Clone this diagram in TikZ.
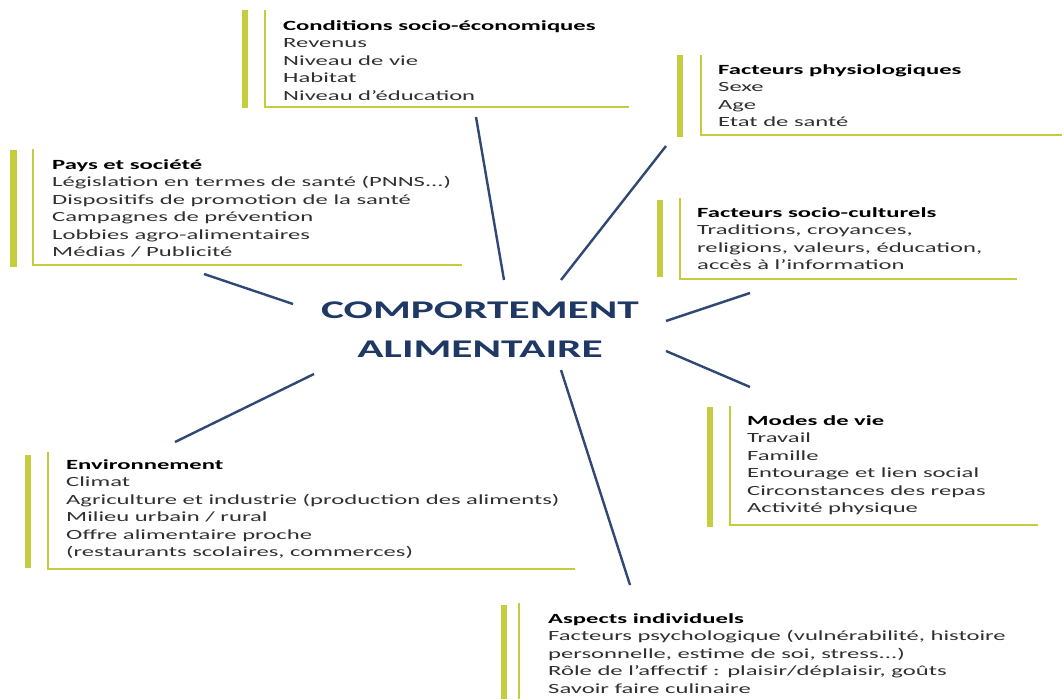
\documentclass[tikz,border=0pt]{standalone}
\usepackage{fontspec}
\setmainfont{Carlito}
\usepackage{graphicx}
\definecolor{olive}{RGB}{197,205,62}
\definecolor{navy}{RGB}{47,72,118}
\definecolor{titlenavy}{RGB}{31,56,100}
\definecolor{bodygray}{RGB}{48,48,48}
\newcommand{\sx}{1.76}
\newcommand{\boxtext}[2]{\scalebox{\sx}[1]{\begin{tabular}[t]{@{}l@{}}\textcolor{black}{\textbf{#1}}\\#2\end{tabular}}}
\begin{document}
\begin{tikzpicture}[x=1pt,y=-1pt,
  bar/.style={fill=olive,draw=none},
  rule/.style={draw=olive,line width=2.6pt},
  conn/.style={draw=navy,line width=2.4pt},
  info/.style={anchor=base west,inner sep=0pt,text=bodygray,font=\fontsize{14}{17.5}\selectfont},
  center/.style={anchor=base,inner sep=0pt,text=titlenavy,font=\fontsize{25.5}{39}\selectfont\bfseries}]
\useasboundingbox[fill=white] (0,0) rectangle (1064,699);

% decorations of the boxes
\fill[bar] (242,10) rectangle (248,108);
\draw[rule] (265,10) -- (265,107) -- (629,107);
\fill[bar] (10,150) rectangle (17,267);
\draw[rule] (33,149) -- (33,265) -- (462,265);
\fill[bar] (677,55) rectangle (683,137);
\draw[rule] (701,55) -- (701,135) -- (1062,135);
\fill[bar] (657,200) rectangle (663,277);
\draw[rule] (680,198) -- (680,279) -- (1017,279);
\fill[bar] (707,407) rectangle (713,527);
\draw[rule] (730,406) -- (730,525) -- (1038,525);
\fill[bar] (25,455) rectangle (31,568);
\draw[rule] (48,452) -- (48,569) -- (575,569);
\fill[bar] (501,605) rectangle (507,699);
\draw[rule] (519,603) -- (519,699);

% texts
\node[info] (cond) at (283,30) {\boxtext{Conditions socio-économiques}{Revenus\\Niveau de vie\\Habitat\\Niveau d’éducation}};
\node[info] (pays) at (52,169) {\boxtext{Pays et société}{Législation en termes de santé (PNNS...)\\Dispositifs de promotion de la santé\\Campagnes de prévention\\Lobbies agro-alimentaires\\Médias / Publicité}};
\node[info] (physio) at (718,74) {\boxtext{Facteurs physiologiques}{Sexe\\Age\\Etat de santé}};
\node[info] (socio) at (697,217) {\boxtext{Facteurs socio-culturels}{Traditions, croyances,\\religions, valeurs, éducation,\\accès à l’information}};
\node[info] (modes) at (747,425) {\boxtext{Modes de vie}{Travail\\Famille\\Entourage et lien social\\Circonstances des repas\\Activité physique}};
\node[info] (env) at (66,469) {\boxtext{Environnement}{Climat\\Agriculture et industrie (production des aliments)\\Milieu urbain / rural\\Offre alimentaire proche\\(restaurants scolaires, commerces)}};
\node[info] (asp) at (548,623) {\boxtext{Aspects individuels}{Facteurs psychologique (vulnérabilité, histoire\\personnelle, estime de soi, stress...)\\Rôle de l’affectif : plaisir/déplaisir, goûts\\Savoir faire culinaire}};

\node[center] (comp) at (480,318) {\scalebox{1.7}[1]{\begin{tabular}[t]{@{}c@{}}COMPORTEMENT\\ALIMENTAIRE\end{tabular}}};

% connectors
\coordinate (a1) at (476,117); \coordinate (b1) at (504,280);
\coordinate (a2) at (666,146); \coordinate (b2) at (561,280);
\coordinate (a3) at (204,274); \coordinate (b3) at (293,304);
\coordinate (a4) at (750,293); \coordinate (b4) at (666,321);
\coordinate (a5) at (750,387); \coordinate (b5) at (666,351);
\coordinate (a6) at (175,442); \coordinate (b6) at (314,374);
\coordinate (a7) at (630,585); \coordinate (b7) at (561,370);
\foreach \i in {1,...,7} {\draw[conn] (a\i) -- (b\i);}
\end{tikzpicture}
\end{document}
